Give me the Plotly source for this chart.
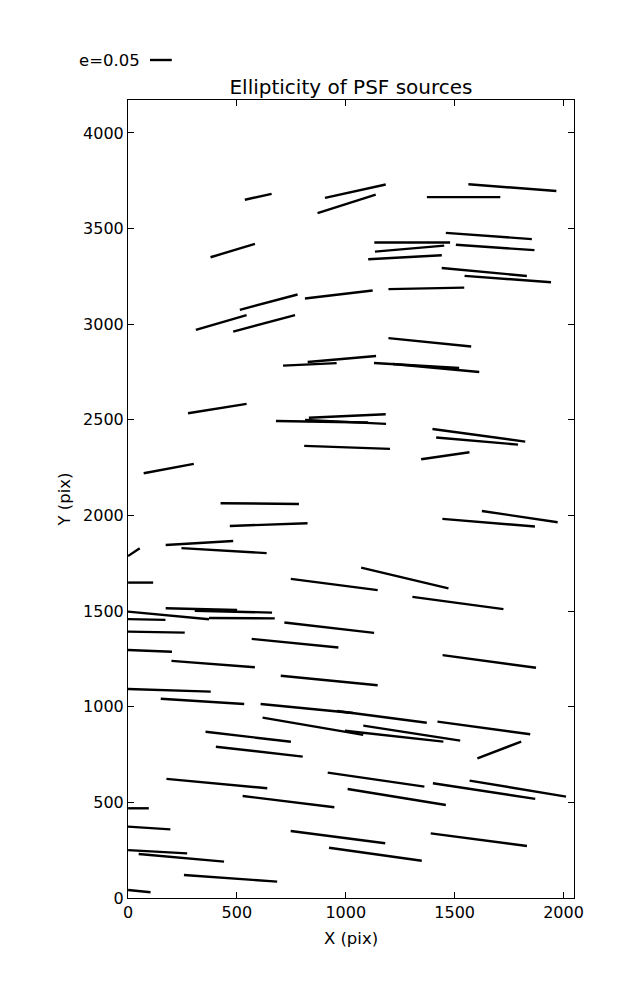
import plotly.graph_objects as go

# Whisker centres (pix) and whisker vector components (pix, full length)
x_center = [598, 1044, 1004, 1541, 1765, 481, 1305, 1293, 1272, 1657, 1686, 1636, 1744,
            646, 968, 1370, 428, 625, 1386, 982, 835, 1325, 1415, 410, 1007, 891, 999,
            1006, 187, 1611, 1603, 1457, 605, 646, 1799, 1656, 328, 441, 27, 58, 947,
            1271, 1515, 337, 484, 186, 523, 86, 130, 101, 767, 924, 391, 924, 1659, 190,
            342, 821, 1166, 1634, 849, 1222, 1303, 1705, 552, 603, 408, 737, 48, 97, 136,
            245, 471, 52, 964, 1136, 1139, 1234, 1635, 1790, 1611]
y_center = [3666, 3695, 3629, 3664, 3714, 3385, 3427, 3395, 3350, 3461, 3401, 3273, 3236,
            3115, 3155, 3187, 3009, 3004, 2905, 2818, 2790, 2784, 2771, 2559, 2520, 2490,
            2489, 2356, 2245, 2419, 2389, 2312, 2062, 1952, 1994, 1962, 1856, 1816, 1808,
            1649, 1639, 1673, 1542, 1510, 1497, 1477, 1463, 1456, 1390, 1292, 1332, 1413,
            1223, 1137, 1237, 1086, 1028, 991, 947, 889, 898, 846, 862, 774, 843, 765, 598,
            504, 469, 366, 242, 210, 103, 36, 318, 229, 619, 528, 559, 572, 305]
whisker_dx = [123, 279, 267, 337, 404, 204, 348, 318, 338, 395, 361, 391, 397,
              265, 311, 348, 233, 284, 380, 314, 246, 391, 396, 269, 353, 423, 372,
              394, 230, 426, 376, 222, 360, 357, 348, 425, 310, 391, 54, 115, 399,
              401, 418, 328, 355, 372, 302, 172, 261, 202, 398, 412, 383, 445, 429, 380,
              383, 424, 412, 426, 462, 452, 445, 201, 392, 399, 463, 421, 95, 195, 271,
              392, 428, 103, 434, 426, 444, 451, 470, 443, 442]
whisker_dy = [31, 70, 97, 0, -35, 70, 0, 31, 21, -33, -28, -42, -33,
              80, 42, 8, 77, 86, -44, 31, 13, -26, -42, 49, 18, -8, -21,
              -16, 49, -66, -37, 37, -4, 14, -59, -40, 21, -26, 41, 0, -59,
              -108, -64, -9, -10, -40, -2, -4, -5, -9, -45, -54, -33, -50, -66, -14,
              -28, -47, -61, -66, -90, -57, -79, 87, -52, -52, -49, -59, 0, -14, -17,
              -40, -35, -12, -64, -68, -73, -84, -82, -84, -66]

x_range = [0, 2048]
y_range = [0, 4172]
x_ticks = [0, 500, 1000, 1500, 2000]
y_ticks = [0, 500, 1000, 1500, 2000, 2500, 3000, 3500, 4000]
legend_e = 0.05
legend_len = 100  # pix of whisker for e=0.05

xs, ys = [], []
for xc, yc, dx, dy in zip(x_center, y_center, whisker_dx, whisker_dy):
    xs += [xc - dx / 2, xc + dx / 2, None]
    ys += [yc - dy / 2, yc + dy / 2, None]

fig = go.Figure()
fig.add_trace(go.Scatter(x=xs, y=ys, mode="lines",
                         line=dict(color="black", width=2.4), showlegend=False,
                         hoverinfo="skip"))

tickfont = dict(family="DejaVu Sans", size=16, color="black")
labfont = dict(family="DejaVu Sans", size=16.5, color="black")
axis_common = dict(showline=True, linecolor="black", linewidth=1, mirror="ticks",
                   ticks="inside", ticklen=6, tickcolor="black", tickwidth=1,
                   showgrid=False, zeroline=False, tickfont=tickfont)

fig.update_layout(
    width=637, height=1000,
    margin=dict(l=120, r=71, t=92, b=110),
    paper_bgcolor="white", plot_bgcolor="white",
    font=labfont,
    title=dict(text="Ellipticity of PSF sources", x=(351 - 8) / 637, xanchor="center",
               y=1 - 79 / 1000, yanchor="middle",
               font=dict(family="DejaVu Sans", size=20, color="black")),
    xaxis=dict(range=x_range, tickvals=x_ticks, title=dict(text="X (pix)", font=labfont, standoff=11),
               **axis_common),
    yaxis=dict(range=y_range, tickvals=y_ticks, title=dict(text="Y (pix)", font=labfont, standoff=8),
               **axis_common),
)

# legend key: e=0.05 whisker drawn with the x-axis scale
plot_w_frac = legend_len / (x_range[1] - x_range[0])
lx0 = (150 - 128) / 446
ly = (898 - 60) / 798
fig.add_shape(type="line", xref="paper", yref="paper", x0=lx0, x1=lx0 + plot_w_frac,
              y0=ly, y1=ly, line=dict(color="black", width=2.4))
fig.add_annotation(text=f"e={legend_e}", xref="paper", yref="paper", x=(142 - 128) / 446,
                   y=ly, xanchor="right", yanchor="middle", showarrow=False,
                   font=labfont)

fig.write_html("out.html")
